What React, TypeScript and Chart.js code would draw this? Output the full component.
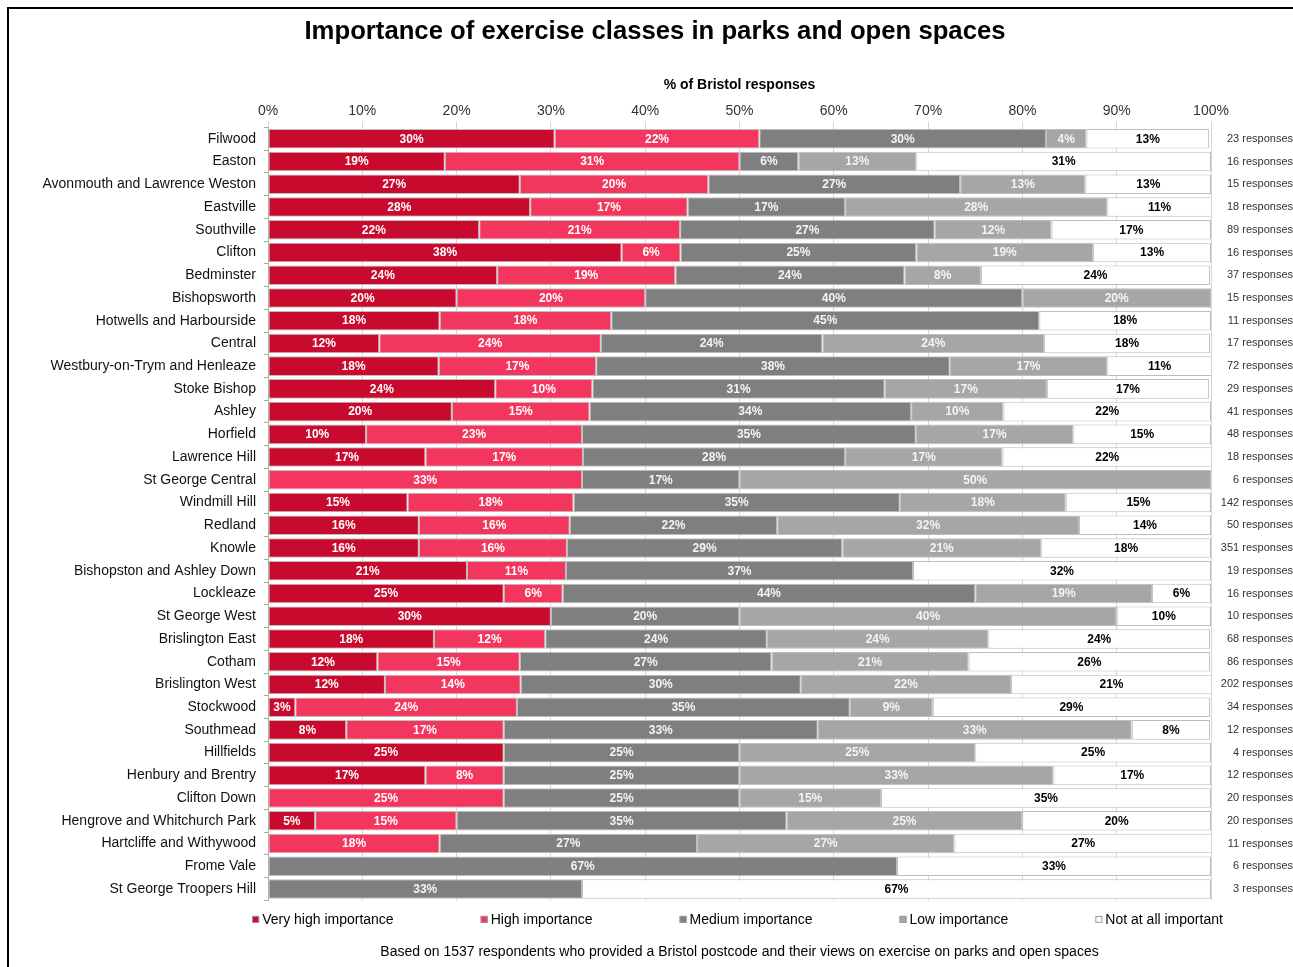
import React, { useEffect, useRef } from 'react';
import { Chart, registerables } from 'chart.js';

Chart.register(...registerables);

const FONT = '"Liberation Sans", Arial, Helvetica, sans-serif';

const chartTitle = 'Importance of exercise classes in parks and open spaces';
const axisTitle = '% of Bristol responses';
const footnote = 'Based on 1537 respondents who provided a Bristol postcode and their views on exercise on parks and open spaces';

const categories = [
  'Filwood', 'Easton', 'Avonmouth and Lawrence Weston', 'Eastville', 'Southville', 'Clifton',
  'Bedminster', 'Bishopsworth', 'Hotwells and Harbourside', 'Central', 'Westbury-on-Trym and Henleaze',
  'Stoke Bishop', 'Ashley', 'Horfield', 'Lawrence Hill', 'St George Central', 'Windmill Hill', 'Redland',
  'Knowle', 'Bishopston and Ashley Down', 'Lockleaze', 'St George West', 'Brislington East', 'Cotham',
  'Brislington West', 'Stockwood', 'Southmead', 'Hillfields', 'Henbury and Brentry', 'Clifton Down',
  'Hengrove and Whitchurch Park', 'Hartcliffe and Withywood', 'Frome Vale', 'St George Troopers Hill',
];

const responseCounts = [
  23, 16, 15, 18, 89, 16, 37, 15, 11, 17, 72, 29, 41, 48, 18, 6, 142, 50, 351, 19, 16, 10, 68, 86, 202,
  34, 12, 4, 12, 20, 20, 11, 6, 3,
];

const veryHigh = [
  30.4, 18.75, 26.7, 27.8, 22.4, 37.5, 24.3, 20, 18.2, 11.8, 18.1, 24.1, 19.5, 10.4, 16.7, 0, 14.8, 16,
  16, 21.1, 25, 30, 17.6, 11.6, 12.4, 2.9, 8.3, 25, 16.7, 0, 5, 0, 0, 0,
];
const high = [
  21.7, 31.25, 20, 16.7, 21.3, 6.25, 18.9, 20, 18.2, 23.5, 16.7, 10.3, 14.6, 22.9, 16.7, 33.3, 17.6, 16,
  15.7, 10.5, 6.25, 0, 11.8, 15.1, 14.4, 23.5, 16.7, 0, 8.3, 25, 15, 18.2, 0, 0,
];
const medium = [
  30.4, 6.25, 26.7, 16.7, 27.0, 25, 24.3, 40, 45.4, 23.5, 37.5, 31.0, 34.1, 35.4, 27.8, 16.7, 34.6, 22,
  29.2, 36.8, 43.75, 20, 23.5, 26.7, 29.7, 35.3, 33.3, 25, 25, 25, 35, 27.3, 66.7, 33.3,
];
const low = [
  4.3, 12.5, 13.3, 27.8, 12.4, 18.75, 8.1, 20, 0, 23.5, 16.7, 17.2, 9.8, 16.7, 16.7, 50, 17.6, 32,
  21.1, 0, 18.75, 40, 23.5, 20.9, 22.3, 8.8, 33.3, 25, 33.3, 15, 25, 27.3, 0, 0,
];
const notAtAll = [
  13.0, 31.25, 13.3, 11.1, 16.9, 12.5, 24.3, 0, 18.2, 17.6, 11.1, 17.2, 22.0, 14.6, 22.2, 0, 15.4, 14,
  18.0, 31.6, 6.25, 10, 23.5, 25.6, 21.3, 29.4, 8.3, 25, 16.7, 35, 20, 27.3, 33.3, 66.7,
];

const seriesNames = [
  'Very high importance', 'High importance', 'Medium importance', 'Low importance', 'Not at all important',
];
const seriesValues = [veryHigh, high, medium, low, notAtAll];
const seriesColors = ['#C80A2E', '#F3365E', '#7F7F7F', '#A6A6A6', '#FFFFFF'];
const valueLabelColors = ['#FFFFFF', '#FFFFFF', '#F4F4F4', '#F4F4F4', '#000000'];

const responseLabels = responseCounts.map((n) => `${n} responses`);

const barValueLabels = {
  id: 'barValueLabels',
  afterDatasetsDraw(chart: any) {
    const ctx = chart.ctx;
    ctx.save();
    ctx.font = `bold 12px ${FONT}`;
    ctx.textAlign = 'center';
    ctx.textBaseline = 'middle';
    chart.data.datasets.forEach((ds: any, di: number) => {
      const meta = chart.getDatasetMeta(di);
      meta.data.forEach((bar: any, i: number) => {
        const v = ds.data[i];
        if (!v) return;
        const p = bar.getProps(['x', 'y', 'base'], true);
        ctx.fillStyle = valueLabelColors[di];
        ctx.fillText(`${Math.round(v)}%`, (p.x + p.base) / 2, p.y + 0.5);
      });
    });
    ctx.restore();
  },
};

const bottomLegend = {
  id: 'bottomLegend',
  afterDraw(chart: any) {
    const ctx = chart.ctx;
    const area = chart.chartArea;
    ctx.save();
    ctx.font = `14px ${FONT}`;
    ctx.textBaseline = 'middle';
    ctx.textAlign = 'left';
    const box = 7;
    const gap = 3;
    const spacing = 87;
    const widths = seriesNames.map((n) => box + gap + ctx.measureText(n).width);
    const total = widths.reduce((a, b) => a + b, 0) + spacing * (seriesNames.length - 1);
    let x = (area.left + area.right) / 2 - 2 - total / 2;
    const y = area.bottom + 19;
    seriesNames.forEach((name, i) => {
      ctx.fillStyle = seriesColors[i];
      ctx.fillRect(x, y - box / 2, box, box);
      ctx.strokeStyle = '#9a9a9a';
      ctx.lineWidth = 1;
      ctx.strokeRect(x + 0.5, y - box / 2 + 0.5, box - 1, box - 1);
      ctx.fillStyle = '#000';
      ctx.fillText(name, x + box + gap, y + 0.5);
      x += widths[i] + spacing;
    });
    ctx.restore();
  },
};

export default function App() {
  const canvasRef = useRef<HTMLCanvasElement | null>(null);

  useEffect(() => {
    if (!canvasRef.current) return;
    const chart = new Chart(canvasRef.current, {
      type: 'bar',
      data: {
        labels: categories,
        datasets: seriesNames.map((name, i) => ({
          label: name,
          data: seriesValues[i],
          backgroundColor: seriesColors[i],
          borderColor: '#BDBDBD',
          borderWidth: 1,
          borderSkipped: false,
          barPercentage: 0.86,
          categoryPercentage: 1,
          xAxisID: 'x',
          yAxisID: 'y',
        })),
      },
      options: {
        indexAxis: 'y',
        responsive: false,
        animation: false,
        layout: { padding: { left: 17, right: 0, top: 0, bottom: 0 } },
        scales: {
          x: {
            type: 'linear',
            position: 'top',
            stacked: true,
            min: 0,
            max: 100,
            afterFit: (s: any) => { s.height = 51.6; },
            ticks: {
              stepSize: 10,
              callback: (v: any) => `${v}%`,
              font: { size: 14, family: FONT },
              color: '#333',
              padding: 2,
            },
            grid: { color: '#D6D6D6', tickLength: 6, drawTicks: true },
            border: { display: false },
            title: {
              display: true,
              text: axisTitle,
              font: { size: 14, weight: 'bold', family: FONT },
              color: '#000',
              padding: { top: 1, bottom: 0 },
            },
          },
          y: {
            type: 'category',
            position: 'left',
            stacked: true,
            offset: true,
            afterFit: (s: any) => { s.width = 251; },
            ticks: { font: { size: 14, family: FONT }, color: '#111', padding: 8, autoSkip: false },
            grid: { offset: true, drawOnChartArea: false, drawTicks: true, tickLength: 4, color: '#A8A8A8' },
            border: { display: true, color: '#B0B0B0' },
          },
          y2: {
            type: 'category',
            position: 'right',
            labels: responseLabels,
            offset: true,
            afterFit: (s: any) => { s.width = 82; },
            ticks: { font: { size: 11, family: FONT }, color: '#333', crossAlign: 'far', padding: 8, autoSkip: false },
            grid: { display: false, drawTicks: false, drawOnChartArea: false },
            border: { display: false },
          },
        },
        plugins: {
          legend: { display: false },
          tooltip: { enabled: false },
          title: {
            display: true,
            text: chartTitle,
            color: '#000',
            font: { size: 25.7, weight: 'bold', family: FONT },
            padding: { top: 16, bottom: 29 },
          },
          subtitle: {
            display: true,
            text: footnote,
            position: 'bottom',
            fullSize: false,
            color: '#000',
            font: { size: 14, family: FONT },
            padding: { top: 43.2, bottom: 6.6 },
          },
        },
      },
      plugins: [barValueLabels, bottomLegend],
    } as any);
    return () => chart.destroy();
  }, []);

  return (
    <div style={{ position: 'absolute', left: 0, top: 0, width: 1293, height: 967, overflow: 'hidden', background: '#fff' }}>
      <canvas ref={canvasRef} width={1293} height={967} style={{ display: 'block' }} />
      <div
        style={{
          position: 'absolute', left: 7, top: 7, width: 1300, height: 1000,
          borderTop: '2px solid #000', borderLeft: '2px solid #000', pointerEvents: 'none',
        }}
      />
    </div>
  );
}
